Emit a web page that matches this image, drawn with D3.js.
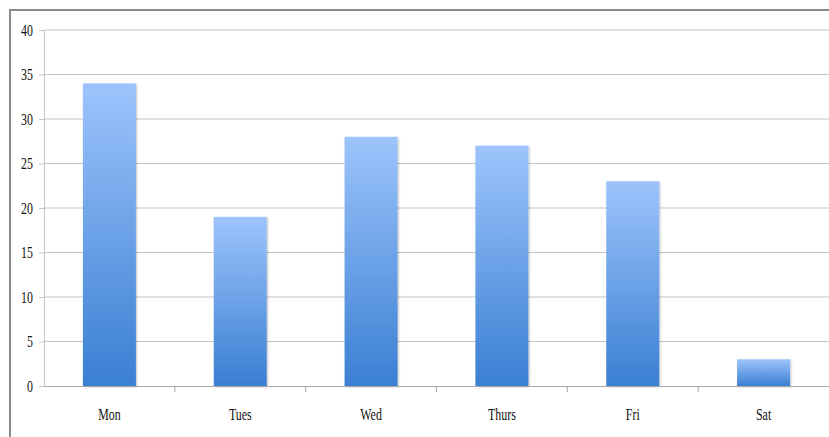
<!DOCTYPE html>
<html>
<head>
<meta charset="utf-8">
<script src="https://cdn.jsdelivr.net/npm/d3@7"></script>
<style>
  html, body { margin: 0; padding: 0; background: #fff; }
  svg { display: block; }
</style>
</head>
<body>
<svg id="chart" width="829" height="437"></svg>
<script>
// Weekly counts per day
const days = ["Mon", "Tues", "Wed", "Thurs", "Fri", "Sat"];
const counts = [34, 19, 28, 27, 23, 3];
const yTicks = [0, 5, 10, 15, 20, 25, 30, 35, 40];

const svg = d3.select("#chart");
const W = 829, H = 437;
const plot = { left: 44, right: 829, top: 30, bottom: 386 };
const squeeze = 0.7; // narrow the serif labels horizontally
const labelFont = "'Liberation Serif', 'DejaVu Serif', serif";

// Outer chart frame (continues past the right and bottom edges)
svg.append("rect")
  .attr("x", 10).attr("y", 10)
  .attr("width", W + 20).attr("height", H + 20)
  .attr("fill", "#fff")
  .attr("stroke", "#8a8a8a")
  .attr("stroke-width", 2);

const x = d3.scaleBand().domain(days).range([plot.left, plot.right]).paddingInner(0).paddingOuter(0);
const y = d3.scaleLinear().domain([0, 40]).range([plot.bottom, plot.top]);

// Vertical gradient for bars
const defs = svg.append("defs");
const grad = defs.append("linearGradient")
  .attr("id", "barGrad").attr("x1", 0).attr("y1", 0).attr("x2", 0).attr("y2", 1);
grad.append("stop").attr("offset", "0%").attr("stop-color", "#9dc4fc");
grad.append("stop").attr("offset", "100%").attr("stop-color", "#3a7fd2");

const shadow = defs.append("filter").attr("id", "barShadow")
  .attr("x", "-10%").attr("y", "-10%").attr("width", "130%").attr("height", "130%");
shadow.append("feDropShadow").attr("dx", 1).attr("dy", 1).attr("stdDeviation", 1)
  .attr("flood-color", "#000").attr("flood-opacity", 0.25);

// Horizontal gridlines
svg.append("g").selectAll("line").data(yTicks.filter(d => d > 0)).join("line")
  .attr("x1", plot.left).attr("x2", plot.right)
  .attr("y1", d => y(d)).attr("y2", d => y(d))
  .attr("stroke", "#c4c4c4").attr("stroke-width", 1.2);

function styleLabels(sel) {
  sel.attr("font-family", labelFont).attr("font-size", 17);
  sel.selectAll(".tick text").attr("fill", "#111").each(function () {
    const t = d3.select(this);
    const tx = +t.attr("x") || 0;
    t.attr("transform", `translate(${tx},0) scale(${squeeze},1) translate(${-tx},0)`);
  });
}

// Y axis
const yAxis = svg.append("g")
  .attr("transform", `translate(${plot.left},0)`)
  .call(d3.axisLeft(y).tickValues(yTicks).tickSize(5).tickPadding(6));
yAxis.select(".domain").attr("stroke", "#c4c4c4");
yAxis.selectAll(".tick line").attr("stroke", "#c4c4c4");
styleLabels(yAxis);

// Bars
const bw = x.bandwidth() * 0.405;
svg.append("g").selectAll("rect").data(days).join("rect")
  .attr("x", (d) => x(d) + (x.bandwidth() - bw) / 2)
  .attr("width", bw)
  .attr("y", (d, i) => y(counts[i]))
  .attr("height", (d, i) => y(0) - y(counts[i]))
  .attr("fill", "url(#barGrad)")
  .attr("filter", "url(#barShadow)");

// X axis with ticks at category boundaries
const xAxis = svg.append("g")
  .attr("transform", `translate(0,${plot.bottom})`)
  .call(d3.axisBottom(x).tickSize(0).tickPadding(22));
xAxis.select(".domain").attr("stroke", "#a8a8a8").attr("stroke-width", 1.2);
styleLabels(xAxis);
svg.append("g").selectAll("line").data(days.slice(1)).join("line")
  .attr("x1", d => x(d)).attr("x2", d => x(d))
  .attr("y1", plot.bottom).attr("y2", plot.bottom + 6)
  .attr("stroke", "#a8a8a8");
</script>
</body>
</html>
